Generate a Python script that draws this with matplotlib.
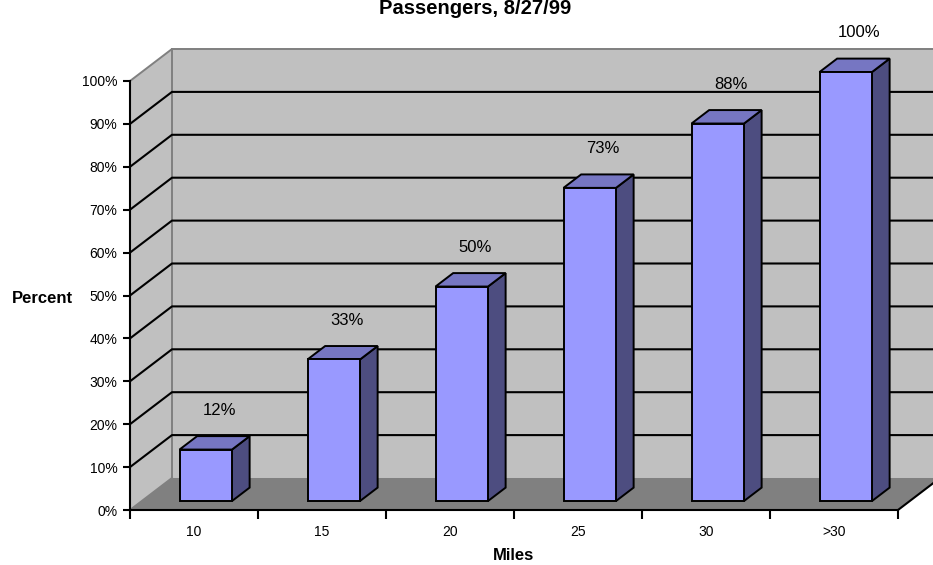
import numpy as np
import matplotlib
matplotlib.use("Agg")
import matplotlib.pyplot as plt
from matplotlib.patches import Polygon

plt.rcParams['font.family'] = ['Liberation Sans', 'DejaVu Sans']

miles = ["10", "15", "20", "25", "30", ">30"]
percent = [12, 33, 50, 73, 88, 100]
yticks = list(range(0, 101, 10))

# depth of the fake 3d box, in data units
DX, DY = 0.328, 7.46
Z0, Z1 = 0.28, 0.70
W = 0.41

WALL = "#C0C0C0"
FLOOR = "#808080"
EDGE = "#808080"


def proj(x, y, z):
    return (x + z * DX, y + z * DY)


fig = plt.figure(figsize=(9.33, 5.65), dpi=100)
ax = fig.add_axes([130 / 933, 55 / 565, 768 / 933, 429 / 565])
n = len(miles)
ax.set_xlim(0, n)
ax.set_ylim(0, 100)
ax.patch.set_alpha(0)

ymax = yticks[-1]
# walls and floor
back = [proj(0, 0, 1), proj(n, 0, 1), proj(n, ymax, 1), proj(0, ymax, 1)]
ax.add_patch(Polygon(back, closed=True, fc=WALL, ec="none", clip_on=False, zorder=0.5))
left = [proj(0, 0, 0), proj(0, 0, 1), proj(0, ymax, 1), proj(0, ymax, 0)]
ax.add_patch(Polygon(left, closed=True, fc=WALL, ec="none", clip_on=False, zorder=0.5))
floor = [proj(0, 0, 0), proj(n, 0, 0), proj(n, 0, 1), proj(0, 0, 1)]
ax.add_patch(Polygon(floor, closed=True, fc=FLOOR, ec="none", clip_on=False, zorder=0.6))

# wall outlines
for pts in ([proj(0, ymax, 0), proj(0, ymax, 1), proj(n, ymax, 1)],
            [proj(0, 0, 1), proj(0, ymax, 1)],
            [proj(0, 0, 0), proj(0, 0, 1)]):
    xs, ys = zip(*pts)
    ax.plot(xs, ys, color=EDGE, lw=1.4, clip_on=False, zorder=0.8)
xs, ys = zip(proj(n, 0, 0), proj(n, 0, 1))
ax.plot(xs, ys, color="black", lw=1.5, clip_on=False, zorder=0.8)

# gridlines on left and back walls
for v in yticks[1:-1]:
    xs, ys = zip(proj(0, v, 0), proj(0, v, 1), proj(n, v, 1))
    ax.plot(xs, ys, color="black", lw=1.5, clip_on=False, zorder=0.9)

# bars
for i, v in enumerate(percent):
    x0 = i + 0.5 - W / 2
    x1 = i + 0.5 + W / 2
    front = [proj(x0, 0, Z0), proj(x1, 0, Z0), proj(x1, v, Z0), proj(x0, v, Z0)]
    top = [proj(x0, v, Z0), proj(x1, v, Z0), proj(x1, v, Z1), proj(x0, v, Z1)]
    side = [proj(x1, 0, Z0), proj(x1, 0, Z1), proj(x1, v, Z1), proj(x1, v, Z0)]
    for pts, c in ((side, "#4D4D80"), (top, "#7676C2"), (front, "#9999FF")):
        ax.add_patch(Polygon(pts, closed=True, fc=c, ec="black", lw=1.4,
                             joinstyle="miter", clip_on=False, zorder=3))
    lx, ly = proj(i + 0.5, v + 6.8, 0.6)
    ax.text(lx, ly, f"{v}%", ha="center", va="center", fontsize=12,
            clip_on=False, zorder=4)

# axes
for s in ("top", "right"):
    ax.spines[s].set_visible(False)
for s in ("left", "bottom"):
    ax.spines[s].set_linewidth(1.5)
    ax.spines[s].set_zorder(2)
ax.set_yticks(yticks)
ax.set_yticklabels([f"{v}%" for v in yticks])
ax.tick_params(axis="y", length=5, width=1.5, pad=4, labelsize=10)
ax.set_xticks(np.arange(n) + 0.5)
ax.set_xticklabels(miles)
ax.set_xticks(np.arange(n + 1), minor=True)
ax.tick_params(axis="x", which="major", length=0, pad=11, labelsize=10)
ax.tick_params(axis="x", which="minor", length=6.5, width=1.5)

ax.set_xlabel("Miles", fontsize=12, fontweight="bold", va="center")
ax.xaxis.set_label_coords(0.5, -0.105)
ax.set_ylabel("Percent", fontsize=12, fontweight="bold", rotation=0,
              ha="center", va="center")
ax.yaxis.set_label_coords(-0.1146, 0.494)

fig.text(475 / 933, 1 - 9 / 565, "Passengers, 8/27/99", ha="center", va="center",
         fontsize=14.5, fontweight="bold")

fig.savefig("out.png", dpi=100)
